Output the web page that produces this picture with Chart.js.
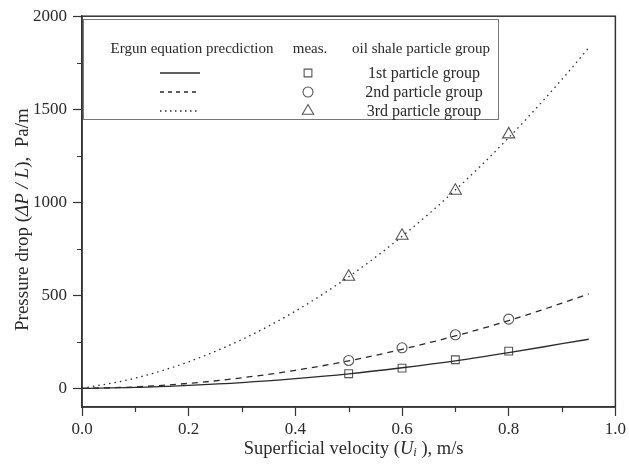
<!DOCTYPE html>
<html>
<head>
<meta charset="utf-8">
<script src="https://cdn.jsdelivr.net/npm/chart.js@4/dist/chart.umd.min.js"></script>
<style>
  html, body { margin: 0; padding: 0; background: #fff; }
  #wrap { width: 629px; height: 466px; position: relative; }
</style>
</head>
<body>
<div id="wrap"><canvas id="pressureChart"></canvas></div>
<script>
// Ergun equation curves
var curveX = [0, 0.1, 0.2, 0.3, 0.4, 0.5, 0.6, 0.7, 0.8, 0.9, 0.95];
var curve1 = [0, 5, 16, 31, 52, 78, 111, 148, 192, 240, 264];
var curve2 = [0, 8, 27, 57, 97, 148, 210, 282, 364, 458, 508];
var curve3 = [0, 55, 143, 263, 415, 600, 817, 1066, 1347, 1661, 1830];

// measured points
var measX = [0.5, 0.6, 0.7, 0.8];
var meas1 = [79, 109, 154, 200];
var meas2 = [150, 218, 288, 372];
var meas3 = [600, 820, 1062, 1365];

var xTicks = [0, 0.2, 0.4, 0.6, 0.8, 1.0];
var xMinorTicks = [0.1, 0.3, 0.5, 0.7, 0.9];
var yTicks = [0, 500, 1000, 1500, 2000];
var yMinorTicks = [250, 750, 1250, 1750];

var groupLabels = ['1st particle group', '2nd particle group', '3rd particle group'];

(function () {
    var serif = '"Liberation Serif", "DejaVu Serif", serif';
    var ink = '#2a2a2a';
    var axisColor = '#333';

    function pts(xs, ys) {
        return xs.map(function (x, i) { return { x: x, y: ys[i] }; });
    }

    function lineSet(data, dash) {
        return {
            type: 'line',
            data: pts(curveX, data),
            borderColor: ink,
            borderWidth: 1.3,
            borderDash: dash,
            pointRadius: 0,
            cubicInterpolationMode: 'monotone',
            fill: false
        };
    }

    function measSet(data, style, r) {
        return {
            type: 'scatter',
            data: pts(measX, data),
            pointStyle: style,
            pointRadius: r,
            pointHoverRadius: r,
            pointBackgroundColor: '#fff',
            pointBorderColor: '#555',
            pointBorderWidth: 1.1,
            showLine: false
        };
    }

    // frame, minor ticks, legend box and axis titles with italic parts
    var extras = {
        id: 'extras',
        afterDraw: function (chart) {
            var ctx = chart.ctx;
            var a = chart.chartArea;
            var xs = chart.scales.x, ys = chart.scales.y;
            ctx.save();

            // frame
            ctx.strokeStyle = axisColor;
            ctx.lineWidth = 1.5;
            ctx.strokeRect(a.left, a.top, a.right - a.left, a.bottom - a.top);

            // minor ticks
            ctx.lineWidth = 1.2;
            ctx.beginPath();
            xMinorTicks.forEach(function (v) {
                var px = Math.round(xs.getPixelForValue(v)) + 0.5;
                ctx.moveTo(px, a.bottom);
                ctx.lineTo(px, a.bottom + 5);
            });
            yMinorTicks.forEach(function (v) {
                var py = Math.round(ys.getPixelForValue(v)) + 0.5;
                ctx.moveTo(a.left, py);
                ctx.lineTo(a.left - 5, py);
            });
            ctx.stroke();

            // legend box
            ctx.fillStyle = '#fff';
            ctx.fillRect(84, 20, 414, 99);
            ctx.strokeStyle = '#777';
            ctx.lineWidth = 1;
            ctx.strokeRect(83.5, 19.5, 415, 100);

            ctx.fillStyle = ink;
            ctx.textAlign = 'center';
            ctx.textBaseline = 'middle';
            ctx.font = '15px ' + serif;
            ctx.fillText('Ergun equation precdiction', 192, 49);
            ctx.fillText('meas.', 310, 49);
            ctx.fillText('oil shale particle group', 421, 49);

            var rowY = [73, 92, 111];
            var dashes = [[], [4, 4], [1.5, 3.5]];
            var styles = ['rect', 'circle', 'triangle'];
            var radii = [5.5, 5, 6.5];
            ctx.font = '16px ' + serif;
            for (var i = 0; i < 3; i++) {
                ctx.strokeStyle = ink;
                ctx.lineWidth = 1.3;
                ctx.setLineDash(dashes[i]);
                ctx.beginPath();
                ctx.moveTo(160, rowY[i]);
                ctx.lineTo(200, rowY[i]);
                ctx.stroke();
                ctx.setLineDash([]);

                ctx.strokeStyle = '#555';
                ctx.fillStyle = '#fff';
                ctx.lineWidth = 1.1;
                Chart.helpers.drawPoint(ctx, { pointStyle: styles[i], radius: radii[i], rotation: 0, borderWidth: 1.1 }, 308, rowY[i]);

                ctx.fillStyle = ink;
                ctx.fillText(groupLabels[i], 424, rowY[i] + 1);
            }

            // x title: Superficial velocity (U_i), m/s
            var parts = [
                { t: 'Superficial velocity (', f: '18.5px ' + serif, dy: 0 },
                { t: 'U', f: 'italic 18.5px ' + serif, dy: 0 },
                { t: 'i', f: 'italic 12.5px ' + serif, dy: 4 },
                { t: ' ), m/s', f: '18.5px ' + serif, dy: 0 }
            ];
            drawParts(ctx, parts, (a.left + a.right) / 2 + 5, 449);

            // y title, rotated
            ctx.save();
            ctx.translate(23, (a.top + a.bottom) / 2 + 8);
            ctx.rotate(-Math.PI / 2);
            var yparts = [
                { t: 'Pressure drop (', f: '19px ' + serif, dy: 0 },
                { t: '\u0394P / L', f: 'italic 19px ' + serif, dy: 0 },
                { t: '),  Pa/m', f: '19px ' + serif, dy: 0 }
            ];
            drawParts(ctx, yparts, 0, 0);
            ctx.restore();

            ctx.restore();
        }
    };

    function drawParts(ctx, parts, cx, cy) {
        var total = 0;
        parts.forEach(function (p) { ctx.font = p.f; p.w = ctx.measureText(p.t).width; total += p.w; });
        var x = cx - total / 2;
        ctx.textAlign = 'left';
        ctx.textBaseline = 'middle';
        ctx.fillStyle = ink;
        parts.forEach(function (p) {
            ctx.font = p.f;
            ctx.fillText(p.t, x, cy + p.dy);
            x += p.w;
        });
    }

    var context = document.getElementById('pressureChart').getContext('2d');

    var pressureChart = new Chart(context, {
        data: {
            datasets: [
                lineSet(curve1, []),
                lineSet(curve2, [6, 5]),
                lineSet(curve3, [1.5, 4]),
                measSet(meas1, 'rect', 5.5),
                measSet(meas2, 'circle', 5),
                measSet(meas3, 'triangle', 7)
            ]
        },
        options: {
            responsive: true,
            maintainAspectRatio: false,
            animation: false,
            layout: { padding: { top: 15, right: 12, left: 0, bottom: 0 } },
            plugins: {
                legend: { display: false },
                tooltip: { enabled: false }
            },
            scales: {
                x: {
                    type: 'linear',
                    min: 0,
                    max: 1,
                    afterBuildTicks: function (scale) {
                        scale.ticks = xTicks.map(function (v) { return { value: v }; });
                    },
                    afterFit: function (scale) { scale.height = 59; },
                    ticks: {
                        padding: 3,
                        color: ink,
                        font: { family: serif, size: 17 },
                        maxRotation: 0,
                        callback: function (v) { return v.toFixed(1); }
                    },
                    grid: {
                        drawOnChartArea: false,
                        drawTicks: true,
                        tickLength: 9,
                        tickColor: axisColor,
                        tickWidth: 1.2
                    },
                    border: { color: axisColor, width: 1.5 }
                },
                y: {
                    type: 'linear',
                    min: -100,
                    max: 2000,
                    afterBuildTicks: function (scale) {
                        scale.ticks = yTicks.map(function (v) { return { value: v }; });
                    },
                    afterFit: function (scale) { scale.width = 82; },
                    ticks: {
                        padding: 6,
                        color: ink,
                        font: { family: serif, size: 17 },
                        callback: function (v) { return String(v); }
                    },
                    grid: {
                        drawOnChartArea: false,
                        drawTicks: true,
                        tickLength: 9,
                        tickColor: axisColor,
                        tickWidth: 1.2
                    },
                    border: { color: axisColor, width: 1.5 }
                }
            }
        },
        plugins: [extras]
    });
}());
</script>
</body>
</html>
